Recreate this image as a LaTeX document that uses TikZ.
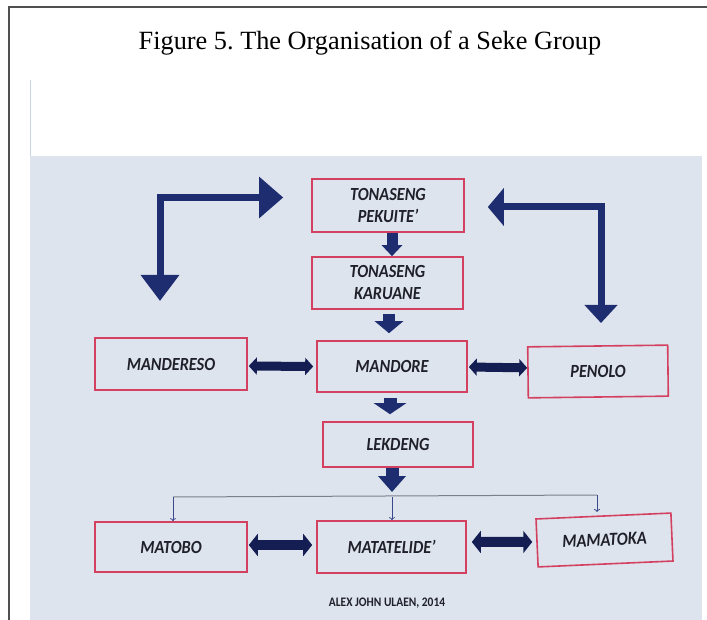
\documentclass[tikz,border=0pt]{standalone}
\usepackage{fontspec}
\setmainfont{Liberation Serif}
\newfontfamily\boxfont[FakeStretch=0.88]{Carlito}
\usetikzlibrary{arrows.meta,calc}
\definecolor{photobg}{RGB}{221,228,238}
\definecolor{photoline}{RGB}{200,212,232}
\definecolor{boxred}{RGB}{212,64,96}
\definecolor{boxtext}{RGB}{32,32,42}
\definecolor{navy}{RGB}{30,45,112}
\definecolor{darknavy}{RGB}{20,30,82}
\definecolor{framegray}{RGB}{80,80,80}
\definecolor{thingray}{RGB}{125,128,140}
\definecolor{thinblue}{RGB}{60,72,140}
\frenchspacing
\begin{document}
\begin{tikzpicture}[x=1pt,y=-1pt,
  box/.style={draw=boxred, line width=1.6pt, inner sep=0pt, align=center,
    text=boxtext, font=\boxfont\bfseries\itshape\fontsize{18.5}{22}\selectfont},
  blockarrow/.style={draw=navy, line width=#1, line cap=butt},
  dblarrow/.style={draw=darknavy, line width=#1, line cap=butt},
  larrow/.style={draw=navy, line width=7pt, line join=miter, line cap=butt},
  thinline/.style={draw=thingray, line width=1pt},
  thinarrow/.style={draw=thinblue, line width=0.8pt, -{To[length=3pt,width=6pt]}}
]
\useasboundingbox (0,0) rectangle (707,620);
\fill[white] (0,0) rectangle (707,620);
% page frame
\draw[framegray, line width=1.8pt] (9,620) -- (9,7) -- (707,7);
% title
\node[font=\fontsize{26.3}{31}\selectfont] (title) at (370,43) {Figure 5. The Organisation of a Seke Group};
% photo background
\draw[photoline, line width=1pt] (30,80) -- (30,156);
\fill[photobg] (30,156) rectangle (702,620);

% boxes
\node[box, minimum width=152pt, minimum height=53pt] (pek) at (388,205.5) {TONASENG\\PEKUITE’};
\node[box, minimum width=151pt, minimum height=52pt] (kar) at (387.5,283) {TONASENG\\KARUANE};
\node[box, minimum width=152pt, minimum height=52pt] (mds) at (171,364) {MANDERESO};
\node[box, minimum width=150pt, minimum height=51pt] (mdr) at (392,366.5) {MANDORE};
\node[box, minimum width=140pt, minimum height=51pt, rotate=0.7] (pen) at (598,371.5) {PENOLO};
\node[box, minimum width=150pt, minimum height=45pt] (lek) at (398,444.5) {LEKDENG};
\node[box, minimum width=152pt, minimum height=50pt] (mat) at (171,547) {MATOBO};
\node[box, minimum width=149pt, minimum height=52pt] (mtl) at (391.5,547) {MATATELIDE’};
\node[box, minimum width=135pt, minimum height=48pt, rotate=2.5] (mmt) at (604.5,540) {MAMATOKA};

% credit
\node[font=\boxfont\bfseries\fontsize{13}{15}\selectfont, text=boxtext] (credit) at (387,603) {ALEX JOHN ULAEN, 2014};

% vertical block arrows
\draw[blockarrow=11pt, -{Triangle[width=20pt,length=11pt]}, navy] ($(pek.south)+(4,0)$) -- ($(kar.north)+(4.5,0)$);
\draw[blockarrow=12pt, -{Triangle[width=28pt,length=12pt]}, navy] ($(kar.south)+(1.5,4)$) -- ($(mdr.north)+(-3,-7)$);
\draw[blockarrow=13pt, -{Triangle[width=32pt,length=11pt]}, navy] ($(mdr.south)+(-2,5)$) -- ($(lek.north)+(-8,-7)$);
\coordinate (hub) at (392,497);
\coordinate (hl) at (173,497);
\coordinate (hr) at (597,495);
\draw[blockarrow=13pt, -{Triangle[width=27pt,length=16pt]}, navy] ($(lek.south)+(-6,0)$) -- ($(hub)+(0,-5)$);

% thin distribution lines
\draw[thinline] (hl) -- (hr);
\draw[thinarrow] (hl) -- (hl |- mat.north);
\draw[thinarrow] (hub) -- (hub |- mtl.north);
\draw[thinarrow] (hr) -- ($(hr)+(0,17)$);

% horizontal double arrows
\draw[dblarrow=9pt, {Triangle[width=17pt,length=8pt]}-{Triangle[width=17pt,length=8pt]}, darknavy] ($(mds.east)+(1,2)$) -- ($(mdr.west)+(-3,0)$);
\draw[dblarrow=9pt, {Triangle[width=17pt,length=8pt]}-{Triangle[width=17pt,length=8pt]}, darknavy] ($(mdr.east)+(1,0.5)$) -- ($(pen.west)+(0,-4.5)$);
\draw[dblarrow=10pt, {Triangle[width=22pt,length=9pt]}-{Triangle[width=22pt,length=9pt]}, darknavy] ($(mat.east)+(1,-2)$) -- ($(mtl.west)+(-4,-2)$);
\draw[dblarrow=10pt, {Triangle[width=22pt,length=9pt]}-{Triangle[width=22pt,length=9pt]}, darknavy] ($(mtl.east)+(5,-5)$) -- ($(mmt.west)+(-4,-1)$);

% L-shaped arrows
\coordinate (lA) at (160,301);
\coordinate (lB) at (160,197.5);
\coordinate (lC) at ($(pek.west)+(-28,-8)$);
\draw[larrow, {Triangle[width=37pt,length=26pt]}-{Triangle[width=40pt,length=24pt]}, navy] (lA) -- (lB) -- (lC);
\coordinate (rA) at ($(pek.east)+(23,1.5)$);
\coordinate (rB) at (601,207);
\coordinate (rC) at (601,323);
\draw[larrow, {Triangle[width=37pt,length=16pt]}-{Triangle[width=32pt,length=18pt]}, navy] (rA) -- (rB) -- (rC);
\end{tikzpicture}
\end{document}
